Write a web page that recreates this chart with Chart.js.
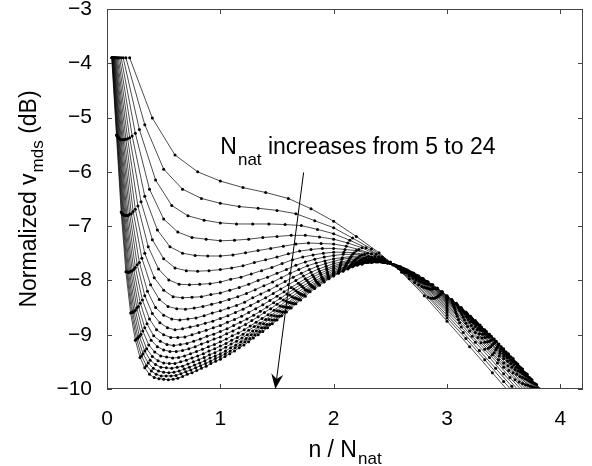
<!DOCTYPE html>
<html>
<head>
<meta charset="utf-8">
<script src="https://cdn.jsdelivr.net/npm/chart.js@4.4.1/dist/chart.umd.min.js"></script>
<style>
html,body{margin:0;padding:0;background:#ffffff;}
#wrap{width:592px;height:466px;position:relative;}
</style>
</head>
<body>
<div id="wrap"><canvas id="c" width="592" height="466"></canvas></div>
<script>
// ---- data ----
const nNat = [5,6,7,8,9,10,11,12,13,14,15,16,17,18,19,20,21,22,23,24];
const vmds05 = [-3.90,-5.01,-5.69,-6.00,-6.17,-6.29,-6.38,-6.49,-6.68,-6.91,-7.19,-7.49,-7.85,-8.28,-8.75,-9.22,-9.70,-10.18];
const vmds06 = [-3.90,-5.13,-5.95,-6.32,-6.49,-6.58,-6.64,-6.67,-6.71,-6.77,-6.90,-7.03,-7.22,-7.42,-7.66,-7.97,-8.31,-8.69,-9.07,-9.46,-9.86,-10.25];
const vmds07 = [-3.90,-5.22,-6.15,-6.62,-6.81,-6.89,-6.94,-6.96,-6.96,-6.96,-6.97,-6.99,-7.06,-7.14,-7.26,-7.40,-7.57,-7.78,-8.04,-8.33,-8.64,-8.96,-9.29,-9.62,-9.95,-10.29];
const vmds08 = [-3.90,-5.29,-6.32,-6.87,-7.11,-7.21,-7.24,-7.27,-7.26,-7.24,-7.21,-7.19,-7.17,-7.17,-7.20,-7.24,-7.31,-7.40,-7.52,-7.67,-7.86,-8.08,-8.33,-8.59,-8.86,-9.14,-9.42,-9.72,-10.01,-10.31];
const vmds09 = [-3.90,-5.34,-6.45,-7.07,-7.38,-7.50,-7.54,-7.55,-7.55,-7.53,-7.49,-7.45,-7.41,-7.37,-7.33,-7.31,-7.32,-7.33,-7.37,-7.43,-7.51,-7.61,-7.75,-7.92,-8.11,-8.33,-8.55,-8.78,-9.03,-9.27,-9.52,-9.79,-10.04,-10.31];
const vmds10 = [-3.90,-5.37,-6.55,-7.25,-7.60,-7.77,-7.82,-7.83,-7.82,-7.80,-7.77,-7.73,-7.67,-7.62,-7.57,-7.51,-7.46,-7.43,-7.41,-7.41,-7.43,-7.45,-7.50,-7.57,-7.67,-7.81,-7.96,-8.13,-8.32,-8.52,-8.72,-8.93,-9.15,-9.37,-9.60,-9.83,-10.07];
const vmds11 = [-3.90,-5.39,-6.63,-7.38,-7.79,-7.99,-8.07,-8.08,-8.07,-8.06,-8.03,-7.98,-7.94,-7.88,-7.82,-7.76,-7.69,-7.62,-7.57,-7.53,-7.50,-7.48,-7.48,-7.49,-7.52,-7.57,-7.64,-7.73,-7.85,-7.99,-8.14,-8.31,-8.49,-8.66,-8.85,-9.05,-9.25,-9.46,-9.66,-9.87,-10.08];
const vmds12 = [-3.90,-5.40,-6.69,-7.50,-7.95,-8.18,-8.30,-8.32,-8.31,-8.30,-8.26,-8.23,-8.18,-8.13,-8.07,-8.00,-7.94,-7.87,-7.80,-7.72,-7.66,-7.61,-7.57,-7.54,-7.52,-7.52,-7.53,-7.57,-7.61,-7.68,-7.77,-7.89,-8.01,-8.15,-8.30,-8.46,-8.62,-8.79,-8.96,-9.14,-9.33,-9.52,-9.70,-9.90,-10.09];
const vmds13 = [-3.90,-5.41,-6.73,-7.59,-8.08,-8.35,-8.48,-8.52,-8.53,-8.51,-8.48,-8.44,-8.40,-8.35,-8.30,-8.24,-8.17,-8.10,-8.03,-7.95,-7.87,-7.80,-7.73,-7.68,-7.64,-7.60,-7.58,-7.56,-7.55,-7.56,-7.60,-7.65,-7.72,-7.81,-7.91,-8.03,-8.16,-8.29,-8.43,-8.58,-8.73,-8.89,-9.06,-9.22,-9.39,-9.57,-9.73,-9.92,-10.10];
const vmds14 = [-3.90,-5.41,-6.77,-7.67,-8.20,-8.50,-8.64,-8.71,-8.73,-8.71,-8.69,-8.65,-8.60,-8.56,-8.51,-8.46,-8.40,-8.32,-8.25,-8.18,-8.10,-8.02,-7.94,-7.87,-7.80,-7.74,-7.69,-7.65,-7.61,-7.59,-7.58,-7.58,-7.60,-7.63,-7.68,-7.75,-7.84,-7.93,-8.04,-8.16,-8.28,-8.41,-8.54,-8.68,-8.83,-8.98,-9.13,-9.28,-9.44,-9.60,-9.77,-9.93,-10.11];
const vmds15 = [-3.90,-5.41,-6.78,-7.71,-8.28,-8.61,-8.78,-8.87,-8.91,-8.89,-8.86,-8.83,-8.79,-8.75,-8.70,-8.65,-8.59,-8.53,-8.46,-8.39,-8.32,-8.24,-8.16,-8.08,-8.00,-7.92,-7.85,-7.79,-7.74,-7.69,-7.66,-7.63,-7.60,-7.59,-7.60,-7.62,-7.66,-7.71,-7.78,-7.87,-7.96,-8.05,-8.16,-8.27,-8.39,-8.51,-8.63,-8.77,-8.91,-9.05,-9.19,-9.34,-9.49,-9.64,-9.79,-9.95,-10.10];
const vmds16 = [-3.90,-5.41,-6.80,-7.76,-8.36,-8.71,-8.91,-9.00,-9.05,-9.05,-9.04,-9.00,-8.96,-8.92,-8.87,-8.83,-8.77,-8.72,-8.66,-8.59,-8.52,-8.45,-8.37,-8.29,-8.21,-8.13,-8.05,-7.97,-7.90,-7.83,-7.78,-7.73,-7.69,-7.66,-7.63,-7.61,-7.61,-7.62,-7.65,-7.68,-7.74,-7.81,-7.88,-7.97,-8.06,-8.15,-8.26,-8.37,-8.48,-8.60,-8.72,-8.85,-8.99,-9.12,-9.25,-9.39,-9.53,-9.67,-9.81,-9.96,-10.11];
const vmds17 = [-3.90,-5.40,-6.81,-7.80,-8.42,-8.80,-9.02,-9.12,-9.18,-9.20,-9.18,-9.16,-9.12,-9.08,-9.03,-8.99,-8.94,-8.89,-8.83,-8.77,-8.71,-8.64,-8.57,-8.49,-8.41,-8.33,-8.25,-8.16,-8.08,-8.00,-7.93,-7.87,-7.81,-7.76,-7.72,-7.68,-7.65,-7.63,-7.62,-7.62,-7.64,-7.67,-7.71,-7.76,-7.83,-7.90,-7.98,-8.06,-8.15,-8.25,-8.35,-8.46,-8.56,-8.68,-8.79,-8.92,-9.04,-9.16,-9.30,-9.43,-9.56,-9.69,-9.83,-9.97,-10.10];
const vmds18 = [-3.90,-5.39,-6.80,-7.82,-8.48,-8.87,-9.10,-9.22,-9.28,-9.31,-9.31,-9.29,-9.26,-9.22,-9.17,-9.13,-9.08,-9.04,-8.98,-8.93,-8.87,-8.81,-8.74,-8.67,-8.59,-8.52,-8.44,-8.36,-8.27,-8.19,-8.11,-8.04,-7.97,-7.90,-7.85,-7.79,-7.75,-7.70,-7.67,-7.65,-7.63,-7.63,-7.64,-7.66,-7.69,-7.73,-7.78,-7.85,-7.92,-7.99,-8.07,-8.15,-8.25,-8.34,-8.44,-8.54,-8.65,-8.76,-8.88,-8.99,-9.10,-9.23,-9.35,-9.47,-9.60,-9.72,-9.85,-9.98,-10.10];
const vmds19 = [-3.90,-5.38,-6.80,-7.83,-8.51,-8.93,-9.19,-9.32,-9.39,-9.41,-9.43,-9.42,-9.39,-9.35,-9.31,-9.27,-9.22,-9.18,-9.13,-9.08,-9.02,-8.97,-8.91,-8.84,-8.77,-8.70,-8.63,-8.55,-8.47,-8.38,-8.30,-8.22,-8.14,-8.07,-8.00,-7.94,-7.88,-7.82,-7.78,-7.74,-7.70,-7.67,-7.65,-7.64,-7.64,-7.65,-7.68,-7.71,-7.75,-7.80,-7.86,-7.93,-7.99,-8.07,-8.15,-8.24,-8.33,-8.42,-8.51,-8.61,-8.72,-8.82,-8.93,-9.04,-9.15,-9.27,-9.39,-9.50,-9.62,-9.74,-9.86,-9.99,-10.11];
const vmds20 = [-3.90,-5.37,-6.80,-7.85,-8.55,-8.99,-9.26,-9.40,-9.48,-9.52,-9.53,-9.53,-9.50,-9.47,-9.43,-9.39,-9.35,-9.30,-9.26,-9.21,-9.16,-9.10,-9.05,-8.99,-8.92,-8.85,-8.79,-8.72,-8.64,-8.56,-8.48,-8.40,-8.32,-8.24,-8.17,-8.09,-8.03,-7.96,-7.91,-7.85,-7.80,-7.75,-7.72,-7.68,-7.67,-7.65,-7.65,-7.65,-7.67,-7.69,-7.73,-7.77,-7.82,-7.87,-7.94,-8.00,-8.08,-8.15,-8.23,-8.31,-8.40,-8.49,-8.59,-8.68,-8.79,-8.89,-8.99,-9.09,-9.20,-9.31,-9.42,-9.53,-9.65,-9.76,-9.88,-9.99,-10.11];
const vmds21 = [-3.90,-5.36,-6.78,-7.85,-8.57,-9.03,-9.30,-9.47,-9.55,-9.60,-9.61,-9.62,-9.60,-9.58,-9.54,-9.50,-9.46,-9.42,-9.37,-9.33,-9.28,-9.23,-9.17,-9.12,-9.06,-9.00,-8.93,-8.86,-8.80,-8.72,-8.65,-8.57,-8.49,-8.41,-8.33,-8.26,-8.18,-8.11,-8.04,-7.98,-7.93,-7.87,-7.82,-7.77,-7.74,-7.70,-7.68,-7.66,-7.65,-7.65,-7.66,-7.68,-7.71,-7.74,-7.78,-7.83,-7.89,-7.95,-8.01,-8.08,-8.15,-8.22,-8.30,-8.38,-8.47,-8.56,-8.65,-8.75,-8.84,-8.94,-9.03,-9.13,-9.24,-9.35,-9.46,-9.56,-9.67,-9.78,-9.89,-10.00,-10.12];
const vmds22 = [-3.90,-5.35,-6.78,-7.85,-8.59,-9.06,-9.35,-9.52,-9.62,-9.67,-9.69,-9.70,-9.69,-9.67,-9.63,-9.60,-9.56,-9.52,-9.48,-9.43,-9.39,-9.35,-9.30,-9.24,-9.19,-9.13,-9.07,-9.00,-8.93,-8.87,-8.81,-8.73,-8.66,-8.58,-8.50,-8.42,-8.34,-8.27,-8.19,-8.12,-8.06,-8.00,-7.94,-7.89,-7.84,-7.80,-7.76,-7.72,-7.69,-7.67,-7.66,-7.65,-7.65,-7.67,-7.69,-7.72,-7.75,-7.80,-7.85,-7.90,-7.96,-8.02,-8.09,-8.15,-8.22,-8.30,-8.38,-8.45,-8.54,-8.62,-8.71,-8.80,-8.90,-8.99,-9.08,-9.18,-9.28,-9.38,-9.48,-9.58,-9.69,-9.79,-9.90,-10.00,-10.11];
const vmds23 = [-3.90,-5.33,-6.76,-7.84,-8.59,-9.08,-9.39,-9.57,-9.67,-9.73,-9.76,-9.76,-9.76,-9.75,-9.72,-9.68,-9.65,-9.61,-9.57,-9.53,-9.49,-9.44,-9.40,-9.35,-9.30,-9.24,-9.19,-9.13,-9.07,-9.00,-8.94,-8.87,-8.81,-8.73,-8.66,-8.58,-8.50,-8.43,-8.35,-8.27,-8.20,-8.13,-8.07,-8.01,-7.96,-7.90,-7.86,-7.81,-7.77,-7.73,-7.70,-7.68,-7.67,-7.66,-7.66,-7.67,-7.68,-7.71,-7.74,-7.77,-7.81,-7.86,-7.91,-7.96,-8.02,-8.08,-8.14,-8.21,-8.29,-8.36,-8.44,-8.52,-8.60,-8.69,-8.77,-8.86,-8.94,-9.03,-9.12,-9.22,-9.32,-9.41,-9.51,-9.61,-9.71,-9.81,-9.91,-10.01,-10.12];
const vmds24 = [-3.90,-5.32,-6.74,-7.84,-8.60,-9.10,-9.42,-9.61,-9.73,-9.79,-9.81,-9.82,-9.83,-9.82,-9.80,-9.77,-9.73,-9.70,-9.66,-9.62,-9.58,-9.53,-9.49,-9.45,-9.40,-9.35,-9.30,-9.24,-9.19,-9.13,-9.06,-9.00,-8.94,-8.87,-8.80,-8.73,-8.65,-8.58,-8.51,-8.43,-8.36,-8.29,-8.21,-8.15,-8.09,-8.03,-7.97,-7.92,-7.87,-7.83,-7.79,-7.75,-7.72,-7.70,-7.67,-7.67,-7.66,-7.66,-7.67,-7.69,-7.72,-7.75,-7.79,-7.83,-7.87,-7.92,-7.97,-8.03,-8.08,-8.15,-8.21,-8.28,-8.35,-8.42,-8.50,-8.58,-8.66,-8.74,-8.82,-8.91,-8.99,-9.08,-9.17,-9.26,-9.35,-9.44,-9.54,-9.63,-9.73,-9.83,-9.92,-10.02,-10.12];
const vmdsSeries = [vmds05,vmds06,vmds07,vmds08,vmds09,vmds10,vmds11,vmds12,vmds13,vmds14,vmds15,vmds16,vmds17,vmds18,vmds19,vmds20,vmds21,vmds22,vmds23,vmds24];

const xTickValues = [0, 1, 2, 3, 4];
const yTickValues = [-10, -9, -8, -7, -6, -5, -4, -3];
const xRange = [0, 4.2];
const yRange = [-10, -3];

// annotation (in data coordinates)
const noteMain = 'N';
const noteSub = 'nat';
const noteRest = ' increases from 5 to 24';
const noteAt = [1.0, -5.68];
const arrowFrom = [1.735, -6.01];
const arrowTo = [1.485, -10.0];

// ---- styling ----
const FONT = '"Liberation Sans", Arial, Helvetica, sans-serif';
const TICK = 21, LBL = 23, LBLSUB = 17, NOTE = 23, NOTESUB = 17;

const datasets = nNat.map((N, k) => ({
  label: 'N_nat = ' + N,
  data: vmdsSeries[k].map((v, i) => ({ x: (i + 1) / N, y: v })),
  showLine: true,
  borderColor: '#000',
  borderWidth: 0.7,
  pointRadius: 1.5,
  pointBorderWidth: 0,
  pointBackgroundColor: '#000',
  pointHoverRadius: 0,
  tension: 0
}));

const decor = {
  id: 'matlabDecor',
  afterDatasetsDraw(chart) {
    const { ctx, chartArea: a, scales } = chart;
    const xs = scales.x, ys = scales.y;
    ctx.save();
    // frame
    ctx.strokeStyle = '#444444';
    ctx.lineWidth = 1;
    ctx.strokeRect(a.left + 0.5, a.top + 0.5, a.right - a.left - 1, a.bottom - a.top - 1);
    // inward ticks on all sides
    const tl = 5;
    ctx.beginPath();
    xTickValues.forEach(v => {
      const p = Math.round(xs.getPixelForValue(v)) + 0.5;
      ctx.moveTo(p, a.bottom); ctx.lineTo(p, a.bottom - tl);
      ctx.moveTo(p, a.top); ctx.lineTo(p, a.top + tl);
    });
    yTickValues.forEach(v => {
      const p = Math.round(ys.getPixelForValue(v)) + 0.5;
      ctx.moveTo(a.left, p); ctx.lineTo(a.left + tl, p);
      ctx.moveTo(a.right, p); ctx.lineTo(a.right - tl, p);
    });
    ctx.stroke();

    ctx.fillStyle = '#000';
    ctx.textAlign = 'left';
    ctx.textBaseline = 'alphabetic';
    const f = s => s + 'px ' + FONT;

    // annotation text
    let tx = xs.getPixelForValue(noteAt[0]);
    const ty = ys.getPixelForValue(noteAt[1]);
    ctx.font = f(NOTE); ctx.fillText(noteMain, tx, ty); tx += ctx.measureText(noteMain).width + 1;
    ctx.font = f(NOTESUB); ctx.fillText(noteSub, tx, ty + 11); tx += ctx.measureText(noteSub).width;
    ctx.font = f(NOTE); ctx.fillText(noteRest, tx, ty);

    // arrow
    const x0 = xs.getPixelForValue(arrowFrom[0]), y0 = ys.getPixelForValue(arrowFrom[1]);
    const x1 = xs.getPixelForValue(arrowTo[0]), y1 = ys.getPixelForValue(arrowTo[1]);
    const ang = Math.atan2(y1 - y0, x1 - x0);
    const dx = Math.cos(ang), dy = Math.sin(ang);
    const L = 15, W = 6, notch = 10;
    ctx.strokeStyle = '#000'; ctx.lineWidth = 1;
    ctx.beginPath(); ctx.moveTo(x0, y0); ctx.lineTo(x1 - dx * notch, y1 - dy * notch); ctx.stroke();
    ctx.beginPath();
    ctx.moveTo(x1, y1);
    ctx.lineTo(x1 - dx * L - dy * W, y1 - dy * L + dx * W);
    ctx.lineTo(x1 - dx * notch, y1 - dy * notch);
    ctx.lineTo(x1 - dx * L + dy * W, y1 - dy * L - dx * W);
    ctx.closePath(); ctx.fill();

    // x-axis title
    ctx.font = f(LBL); const xa = 'n / N', wa = ctx.measureText(xa).width;
    ctx.font = f(LBLSUB); const wb = ctx.measureText('nat').width;
    const sx = (a.left + a.right) / 2 - (wa + wb + 1) / 2;
    const by = 457;
    ctx.font = f(LBL); ctx.fillText(xa, sx, by);
    ctx.font = f(LBLSUB); ctx.fillText('nat', sx + wa + 1, by + 7);

    // y-axis title (rotated)
    ctx.save();
    ctx.translate(36, (a.top + a.bottom) / 2);
    ctx.rotate(-Math.PI / 2);
    ctx.font = f(LBL); const t1 = 'Normalized v', w1 = ctx.measureText(t1).width;
    ctx.font = f(LBLSUB); const t2 = 'mds', w2 = ctx.measureText(t2).width;
    ctx.font = f(LBL); const t3 = ' (dB)', w3 = ctx.measureText(t3).width;
    const s = -(w1 + w2 + w3 + 1) / 2;
    ctx.font = f(LBL); ctx.fillText(t1, s, 0);
    ctx.font = f(LBLSUB); ctx.fillText(t2, s + w1 + 1, 7);
    ctx.font = f(LBL); ctx.fillText(t3, s + w1 + w2 + 1, 0);
    ctx.restore();

    ctx.restore();
  }
};

new Chart(document.getElementById('c'), {
  type: 'scatter',
  data: { datasets },
  options: {
    responsive: false,
    animation: false,
    devicePixelRatio: 1,
    events: [],
    layout: { padding: { left: 0, right: 9, top: 9, bottom: 0 } },
    plugins: { legend: { display: false }, tooltip: { enabled: false } },
    scales: {
      x: {
        type: 'linear', min: xRange[0], max: xRange[1],
        afterBuildTicks: s => { s.ticks = xTickValues.map(v => ({ value: v })); },
        afterFit: s => { s.height = 77; s.paddingLeft = 0; s.paddingRight = 0; },
        grid: { display: false }, border: { display: false },
        ticks: { color: '#000', font: { family: FONT, size: TICK }, padding: 10, maxRotation: 0,
                 callback: v => String(v) }
      },
      y: {
        type: 'linear', min: yRange[0], max: yRange[1],
        afterBuildTicks: s => { s.ticks = yTickValues.map(v => ({ value: v })); },
        afterFit: s => { s.width = 107; s.paddingTop = 0; s.paddingBottom = 0; },
        grid: { display: false }, border: { display: false },
        ticks: { color: '#000', font: { family: FONT, size: TICK }, padding: 7,
                 callback: v => (v < 0 ? '\u2212' + Math.abs(v) : String(v)) }
      }
    }
  },
  plugins: [decor]
});
</script>
</body>
</html>
